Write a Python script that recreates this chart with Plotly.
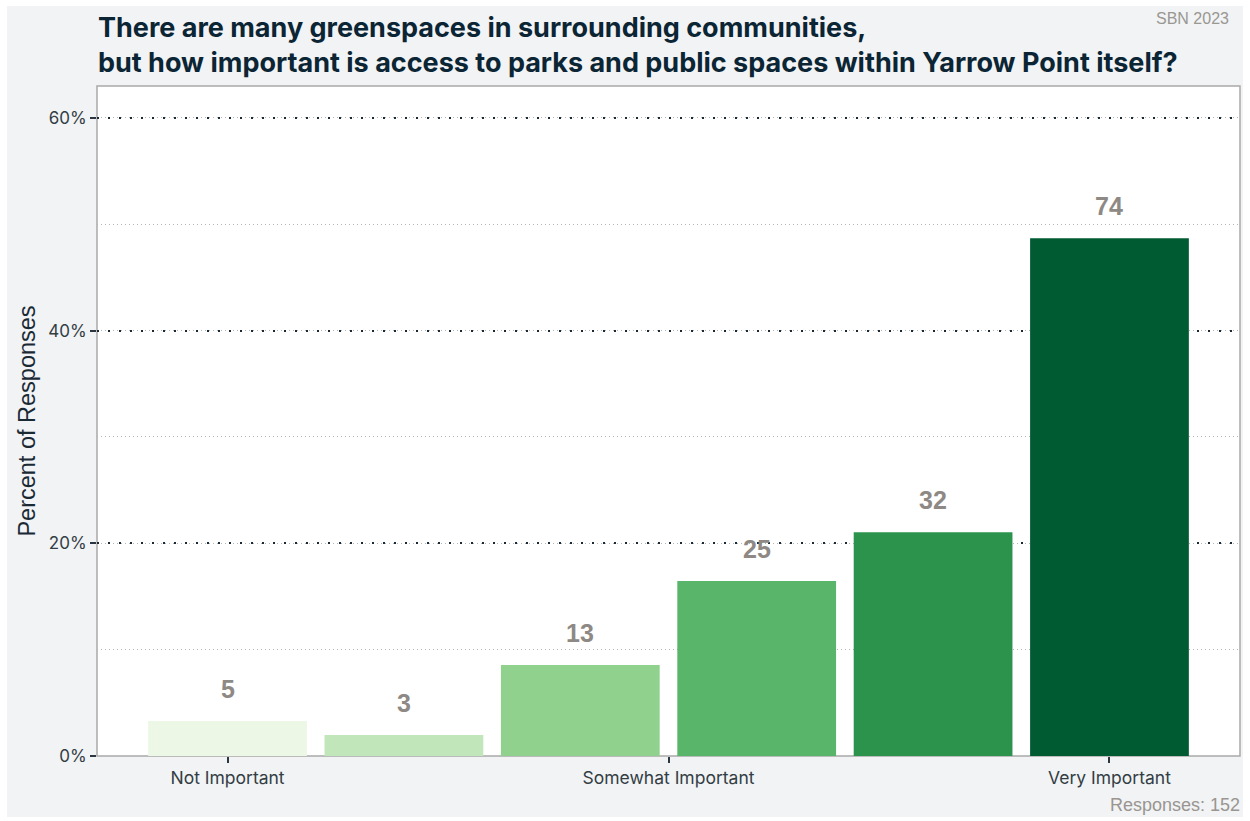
import plotly.graph_objects as go

# ---- data ----
positions = [1, 2, 3, 4, 5, 6]
percents = [3.29, 1.97, 8.55, 16.45, 21.05, 48.68]
counts = [5, 3, 13, 25, 32, 74]
bar_colors = ["#edf7e6", "#c0e6b9", "#8fd18d", "#58b56a", "#2b934c", "#005b33"]
tick_positions = [1, 3.5, 6]
tick_labels = ["Not Important", "Somewhat Important", "Very Important"]
y_ticks = [0, 20, 40, 60]
y_tick_labels = ["0%", "20%", "40%", "60%"]
title_lines = ["There are many greenspaces in surrounding communities,",
               "but how important is access to parks and public spaces within Yarrow Point itself?"]
total_responses = 152

W, H = 1250, 821
L, R, T, B = 97, 10, 86, 65
pw, ph = W - L - R, H - T - B

def px_x(p):
    return (p - L) / pw

def px_y(p):
    return (H - B - p) / ph

fig = go.Figure()
fig.add_trace(go.Bar(
    x=positions, y=percents, width=0.9,
    marker=dict(color=bar_colors, line=dict(width=0)),
    hoverinfo="skip", showlegend=False,
))

for xv, yv, c in zip(positions, percents, counts):
    fig.add_annotation(x=xv, y=yv, xref="x", yref="y", text=f"<b>{c}</b>",
                       showarrow=False, yanchor="middle", yshift=32,
                       font=dict(family="Liberation Sans", size=25, color="#8e8984"))

# outer grey panel and white plot area
fig.add_shape(type="rect", xref="paper", yref="paper",
              x0=px_x(7), x1=px_x(1243), y0=px_y(817), y1=px_y(6),
              fillcolor="#f1f3f5", line=dict(width=0), layer="below")
fig.add_shape(type="rect", xref="paper", yref="paper",
              x0=0, x1=1, y0=0, y1=1,
              fillcolor="white", line=dict(color="#a9a9a9", width=1.5), layer="below")

fig.add_annotation(xref="paper", yref="paper", x=px_x(96), y=px_y(45),
                   xanchor="left", yanchor="middle", align="left", showarrow=False,
                   text="<br>".join(f"<b>{t}</b>" for t in title_lines),
                   font=dict(family="Inter", size=27, color="#0b2534"))
fig.add_annotation(xref="paper", yref="paper", x=px_x(1231), y=px_y(19),
                   xanchor="right", yanchor="middle", showarrow=False,
                   text="SBN 2023", font=dict(family="Liberation Sans", size=16, color="#9a9792"))
fig.add_annotation(xref="paper", yref="paper", x=px_x(1242), y=px_y(805),
                   xanchor="right", yanchor="middle", showarrow=False,
                   text=f"Responses: {total_responses}",
                   font=dict(family="Liberation Sans", size=18, color="#9a9590"))

fig.update_layout(
    width=W, height=H,
    margin=dict(l=L, r=R, t=T, b=B, pad=0),
    paper_bgcolor="white", plot_bgcolor="white",
    bargap=0.1,
    xaxis=dict(
        range=[0.26, 6.74], tickmode="array", tickvals=tick_positions, ticktext=tick_labels,
        showgrid=False, zeroline=False, showline=False,
        ticks="outside", ticklen=6, tickwidth=2, tickcolor="#2b3640",
        tickfont=dict(family="Inter", size=17.5, color="#333d44"),
    ),
    yaxis=dict(
        range=[0, 63], tickmode="array", tickvals=y_ticks, ticktext=y_tick_labels,
        showgrid=True, gridcolor="#1a2a35", gridwidth=2, griddash="2px,9px",
        minor=dict(dtick=10, tick0=0, showgrid=True, gridcolor="#b5b5b5", gridwidth=1, griddash="1px,3px"),
        zeroline=False, showline=False,
        ticks="outside", ticklen=6, tickwidth=2, tickcolor="#2b3640",
        tickfont=dict(family="Inter", size=17, color="#333d44"),
        title=dict(text="Percent of Responses", standoff=5,
                   font=dict(family="Liberation Sans", size=23.5, color="#1a2a35")),
    ),
)

fig.write_html("out.html")
